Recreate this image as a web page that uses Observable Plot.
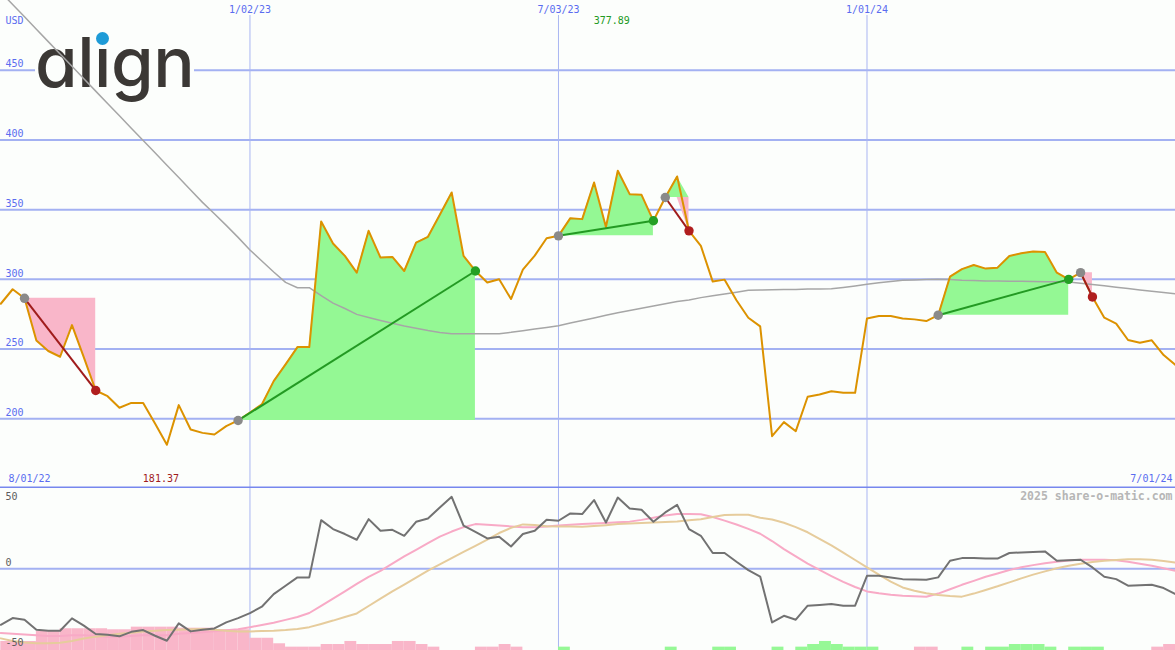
<!DOCTYPE html>
<html><head><meta charset="utf-8">
<script src="https://cdn.jsdelivr.net/npm/d3@7"></script>
<script src="https://cdn.jsdelivr.net/npm/@observablehq/plot@0.6"></script>
<style>
html,body{margin:0;padding:0;background:#fcfefc;}
#wrap{position:relative;width:1175px;height:650px;overflow:hidden;background:#fcfefc;}
#wrap svg{position:absolute;left:0;}
#logo{position:absolute;left:35px;top:28px;font-family:Inter,"Noto Sans",sans-serif;font-weight:500;font-size:69px;line-height:69px;letter-spacing:-0.5px;color:#3b3835;background:#fcfefc;font-feature-settings:"cv11";white-space:nowrap;}
#li{position:relative;}
#dot{position:absolute;width:13px;height:13px;border-radius:50%;background:#1e9bd7;left:50%;margin-left:-6.5px;top:12px;}
</style></head>
<body><div id="wrap"></div>
<script>
// ---------- data ----------
const START = new Date(Date.UTC(2022, 7, 8)); // first weekly close shown
const prices = [282.5, 292.9, 286.4, 256.2, 248.6, 244.5, 267.2, 244, 220.3, 216.2,
 207.9, 211.4, 211.4, 196.7, 181.37, 209.8, 192.3, 189.9, 188.7, 194.7,
 198.8, 204.5, 210.3, 227, 239, 251.4, 251.4, 341.5, 325.7, 316.8,
 304.8, 334.8, 315.6, 316.1, 306, 326.4, 330.5, 346.3, 362.3, 316.8,
 306, 297.7, 300.1, 285.9, 307, 317, 329.5, 331.2, 343.9, 343.2,
 369.5, 337.6, 377.89, 361.1, 360.6, 342, 358.7, 373.8, 334.8, 324,
 298.4, 299.8, 285, 272.5, 266.3, 187.5, 197.6, 191.1, 215.8, 217.4,
 219.8, 218.6, 218.6, 272, 273.7, 273.7, 272, 271.3, 270.1, 274.3,
 302, 307.3, 310.3, 307.7, 308.4, 316.8, 318.7, 319.9, 319.7, 304.8,
 300, 304.8, 287.4, 272.5, 268.2, 256.5, 254.6, 256.3, 245.7, 238.5];
const movingAvg = [506, 497.1, 488.3, 479.4, 470.5, 461.7, 452.8, 443.9, 435, 426.2,
 417.4, 408.4, 399.6, 390.8, 381.8, 373, 364.1, 355.2, 347, 338.7,
 330.1, 321.1, 313.2, 305.3, 297.8, 294, 294, 288.4, 283, 279.1,
 274.9, 272.6, 270.5, 268.5, 266.5, 265, 263.3, 261.9, 261, 261,
 261, 261, 261, 262, 263.2, 264.4, 265.5, 266.7, 268.7, 270.5,
 272.3, 274.2, 276.1, 277.7, 279.3, 280.9, 282.5, 284.1, 285.2, 286.9,
 288.2, 289.5, 290.8, 292.2, 292.4, 292.5, 292.7, 292.8, 293, 293.1,
 293.2, 294.2, 295.3, 296.5, 297.5, 298.5, 299.4, 299.6, 299.9, 300,
 299.9, 299.4, 299.1, 298.9, 298.8, 298.6, 298.6, 298.4, 298.3, 298.2,
 298.1, 297.2, 296.3, 295.4, 294.4, 293.4, 292.4, 291.5, 290.6, 289.7];
const oscMain = [-38.4, -33.8, -34.9, -41.8, -42.5, -42.5, -34, -39, -44.7, -45.2,
 -46.3, -43.2, -42, -45.9, -49.3, -37.4, -42.9, -41.8, -40.9, -36.7,
 -33.8, -30.4, -26, -17.4, -11.6, -5.9, -5.9, 33.3, 27.2, 23.8,
 19.9, 34, 26, 26.7, 22.6, 32.2, 34.5, 42, 49.3, 29.5,
 25.3, 20.8, 21.9, 15.3, 23.8, 26, 33.6, 32.9, 37.9, 37.5,
 47.1, 31.7, 48.8, 41.3, 40.4, 32.2, 38.6, 43.8, 27.2, 22.6,
 10.8, 10.8, 4.8, -0.9, -5.3, -36.8, -32.2, -34.9, -25.3, -24.8,
 -24.2, -25.3, -25.3, -4.8, -4.8, -6, -7.1, -7.3, -7.5, -5.9,
 5.5, 7.3, 7.3, 7, 7, 10.8, 11.2, 11.5, 11.9, 5.5,
 5.8, 6.2, 0.9, -5.5, -7.1, -11.6, -11.3, -11, -13.2, -17.3];
const oscFast = [-44, -44.5, -45, -45.5, -46, -46, -45.5, -45.5, -46, -46.5,
 -46.5, -46, -45.5, -45.5, -45.5, -44.5, -44, -43.5, -42.8, -42.2,
 -41.5, -40, -38.5, -37, -35, -33, -30.3, -25.5, -20.5, -15.5,
 -10.3, -5.5, -1.5, 3.5, 8.5, 13, 17.5, 22, 25.5, 28.5,
 30.6, 30.2, 29.6, 29, 28.5, 28.4, 29, 29.7, 30.2, 30.6,
 31, 31.4, 31.8, 32.3, 33.5, 35, 36.5, 37.5, 37.5, 37.3,
 35.5, 33, 30.3, 27.3, 24, 19, 13.5, 8.5, 3.5, -0.8,
 -5, -9, -12.5, -15.5, -16.8, -17.8, -18.5, -18.8, -19.2, -17,
 -14, -11, -8.3, -5.5, -3.2, -0.8, 1, 2.5, 3.8, 4.8,
 5.6, 6.2, 6.2, 6.1, 5.9, 4.8, 3.4, 2, 0.4, -1.4];
const oscSlow = [-47.7, -49.5, -50.5, -51, -51, -50.7, -49.5, -47.8, -46.5, -45.5,
 -44.6, -43.8, -43, -42.5, -42, -41.7, -41.4, -41.3, -41.8, -42.5,
 -42.9, -42.9, -42.7, -42.5, -42, -41.3, -40, -37.8, -35.5, -33,
 -30.6, -25.5, -20.5, -15.5, -10.8, -6, -1.2, 3, 7.3, 11.5,
 15.7, 20, 24.5, 28, 30.4, 30, 29.2, 29, 28.9, 28.8,
 29.3, 29.9, 30.6, 31, 31.4, 31.7, 32, 32.4, 33.2, 34,
 35.5, 36.8, 37, 37, 35, 33.8, 31.5, 28.5, 25, 20.5,
 16, 11, 6, 0.9, -4, -8.8, -12.8, -15, -16.8, -18,
 -18.7, -19.1, -17, -14.5, -12, -9.3, -6.6, -4, -1.8, 0.3,
 2.1, 3.4, 4.7, 5.5, 6, 6.5, 6.6, 6.2, 5.4, 4.3];
const flowBars = [-6.2, -6.2, -6.2, -13, -13, -14.9, -14.9, -14.9, -14.9, -14.2,
 -14.2, -16, -16, -16, -16, -15.3, -15.3, -15.3, -14.2, -14.2,
 -14.2, -8.4, -8.4, -4.6, -2.3, -2.3, -2.3, -4.1, -4.1, -6.2,
 -4.1, -4.1, -4.1, -6.2, -6.2, -4.1, -2.3, 0, 0, 0,
 -2.3, -2.3, -4.1, -2.3, 0, 0, 0, 2.3, 0, 0,
 0, 0, 0, 0, 0, 0, 2.3, 0, 0, 0,
 2.3, 2.3, 0, 0, 0, 2.3, 0, 2.3, 4.1, 6.2,
 4.1, 2.3, 2.3, 2.3, 0, 0, 0, -2.3, -2.3, 0,
 0, 2.3, 0, 2.3, 2.3, 4.1, 4.1, 4.1, 2.3, 0,
 2.3, 2.3, 2.3, 0, 0, 0, 0, -2.3, -4.1, -4.1];
const gridDates = ["2023-01-02", "2023-07-03", "2024-01-01"];
const gridLabels = ["1/02/23", "7/03/23", "1/01/24"];
const rangeLabels = ["8/01/22", "7/01/24"];
const priceTicks = [200, 250, 300, 350, 400, 450];
const oscTicks = [50, 0, -50];
const patternStart = ["2022-08-22", "2022-12-26", "2023-07-03", "2023-09-04", "2024-02-12", "2024-05-06"];
const patternEnd   = ["2022-10-03", "2023-05-15", "2023-08-28", "2023-09-18", "2024-04-29", "2024-05-13"];
const patternDir   = ["down", "up", "up", "down", "up", "down"];

// ---------- derived tables ----------
const parse = d3.utcParse("%Y-%m-%d");
const dates = prices.map((_, i) => d3.utcDay.offset(START, 7 * i));
const rows = prices.map((p, i) => ({
  date: dates[i], next: d3.utcDay.offset(dates[i], 7), price: p, ma: movingAvg[i],
  osc: oscMain[i], fast: oscFast[i], slow: oscSlow[i], bar: flowBars[i]
}));
const byTime = new Map(rows.map(r => [+r.date, r]));
const pats = patternStart.map((s, k) => {
  const d0 = parse(s), d1 = parse(patternEnd[k]);
  return {k, dir: patternDir[k], d0, d1, p0: byTime.get(+d0).price, p1: byTime.get(+d1).price};
});
const patRows = pats.flatMap(p => rows.filter(r => r.date >= p.d0 && r.date <= p.d1)
  .map(r => ({date: r.date, price: r.price, base: p.p0, k: p.k})));
const gridD = gridDates.map(parse);
const hi = rows.reduce((a, b) => b.price > a.price ? b : a);
const lo = rows.reduce((a, b) => b.price < a.price ? b : a);

// ---------- styling ----------
const W = 1175, H1 = 488, H2 = 162;
const XDOM = [new Date(Date.UTC(2022, 7, 7, 20)), new Date(Date.UTC(2024, 6, 1))];
const YDOM = [150, 500];
const OSC_MIN = -56, OSC_MAX = 55;
const BLUE = "#5a6cf0", GRIDH = "#a3b1f2", GRIDV = "#a9b6f2", SEP = "#7787ee";
const base = {width: W, marginTop: 0, marginRight: 0, marginBottom: 0, marginLeft: 0,
  style: {background: "transparent", fontFamily: "'DejaVu Sans Mono', monospace", fontSize: "10px", overflow: "hidden"}};
const xs = {type: "utc", domain: XDOM, axis: null};
const M = "middle";

const wrap = document.getElementById("wrap");

// layer 1: horizontal price gridlines (under the logo)
const gridPlot = Plot.plot({...base, height: H1, x: xs, y: {domain: YDOM, axis: null},
  marks: [Plot.ruleY(priceTicks, {stroke: GRIDH, strokeWidth: 2})]});
gridPlot.style.top = "0px";
wrap.appendChild(gridPlot);

// layer 2: logo
const logo = document.createElement("div");
logo.id = "logo";
logo.innerHTML = 'al<span id="li">i<span id="dot"></span></span>gn';
wrap.appendChild(logo);

// layer 3: price panel
const up = Plot.plot({...base, height: H1, x: xs, y: {domain: YDOM, axis: null},
  marks: [
    Plot.ruleX(gridD, {stroke: GRIDV, strokeWidth: 1, insetTop: 15}),
    Plot.areaY(patRows, {x: "date", y1: "base", y2: d => Math.max(d.price, d.base), z: "k", fill: "#94f894"}),
    Plot.areaY(patRows, {x: "date", y1: d => Math.min(d.price, d.base), y2: "base", z: "k", fill: "#f9b6c9"}),
    Plot.line(rows, {x: "date", y: "ma", stroke: "#a6a6a6", strokeWidth: 1.5, clip: true}),
    Plot.line(rows, {x: "date", y: "price", stroke: "#dc9200", strokeWidth: 2}),
    Plot.link(pats.filter(p => p.dir === "up"), {x1: "d0", y1: "p0", x2: "d1", y2: "p1", stroke: "#239a23", strokeWidth: 2}),
    Plot.link(pats.filter(p => p.dir === "down"), {x1: "d0", y1: "p0", x2: "d1", y2: "p1", stroke: "#a01c1c", strokeWidth: 2}),
    Plot.dot(pats, {x: "d0", y: "p0", r: 4.7, fill: "#8a8a8a"}),
    Plot.dot(pats.filter(p => p.dir === "up"), {x: "d1", y: "p1", r: 4.7, fill: "#24a024"}),
    Plot.dot(pats.filter(p => p.dir === "down"), {x: "d1", y: "p1", r: 4.7, fill: "#b01e1e"}),
    Plot.ruleY([YDOM[0]], {stroke: SEP, strokeWidth: 2, dy: -1}),
    Plot.text(priceTicks, {y: d => d, text: d => String(d), frameAnchor: "left", textAnchor: "start", lineAnchor: M, dx: 5, dy: -6, fill: BLUE}),
    Plot.text(["USD"], {text: d => d, frameAnchor: "top-left", textAnchor: "start", lineAnchor: M, dx: 5, dy: 20, fill: BLUE}),
    Plot.text(gridD, {x: d => d, text: (d, i) => gridLabels[i], frameAnchor: "top", lineAnchor: M, dy: 9, fill: BLUE}),
    Plot.text([rangeLabels[0]], {text: d => d, frameAnchor: "bottom-left", textAnchor: "start", lineAnchor: M, dx: 8, dy: -10, fill: BLUE}),
    Plot.text([rangeLabels[1]], {text: d => d, frameAnchor: "bottom-right", textAnchor: "end", lineAnchor: M, dx: -3, dy: -10, fill: BLUE}),
    Plot.text([hi], {x: "date", text: d => d.price.toFixed(2), frameAnchor: "top", lineAnchor: M, dx: -6, dy: 20, fill: "#239a23"}),
    Plot.text([lo], {x: "date", text: d => d.price.toFixed(2), frameAnchor: "bottom", lineAnchor: M, dx: -6, dy: -10, fill: "#a01c1c"})
  ]});
up.style.top = "0px";
wrap.appendChild(up);

// layer 4: oscillator panel
const low = Plot.plot({...base, height: H2, x: xs, y: {domain: [OSC_MIN, OSC_MAX], axis: null},
  marks: [
    Plot.ruleX(gridD, {stroke: GRIDV, strokeWidth: 1}),
    Plot.ruleY([0], {stroke: GRIDH, strokeWidth: 2}),
    Plot.rectY(rows.filter(r => r.bar < 0), {x1: "date", x2: "next", y1: () => OSC_MIN, y2: d => OSC_MIN + Math.abs(d.bar), fill: "#f9b6c9"}),
    Plot.rectY(rows.filter(r => r.bar > 0), {x1: "date", x2: "next", y1: () => OSC_MIN, y2: d => OSC_MIN + d.bar, fill: "#96f896"}),
    Plot.line(rows, {x: "date", y: "fast", stroke: "#f8aac6", strokeWidth: 2}),
    Plot.line(rows, {x: "date", y: "slow", stroke: "#e6cc9c", strokeWidth: 2}),
    Plot.line(rows, {x: "date", y: "osc", stroke: "#727272", strokeWidth: 2}),
    Plot.text(oscTicks.filter(t => t !== 0), {y: d => d, text: d => String(d), frameAnchor: "left", textAnchor: "start", lineAnchor: M, dx: 5, dy: 1, fill: "#5c5c5c"}),
    Plot.text(oscTicks.filter(t => t === 0), {y: d => d, text: d => String(d), frameAnchor: "left", textAnchor: "start", lineAnchor: M, dx: 5, dy: -6, fill: "#5c5c5c"}),
    Plot.text(["2025 share-o-matic.com"], {text: d => d, frameAnchor: "top-right", textAnchor: "end", lineAnchor: M, dx: -3, dy: 8, fill: "#b6b6b6", fontWeight: "bold", fontSize: 11.5})
  ]});
low.style.top = H1 + "px";
wrap.appendChild(low);
</script>
</body></html>
